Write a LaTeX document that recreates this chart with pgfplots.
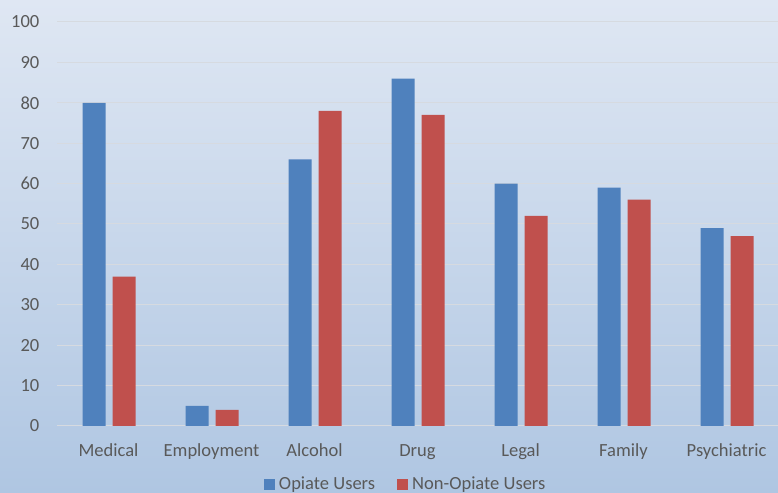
\documentclass[border=0pt]{standalone}
\usepackage{pgfplots}
\pgfplotsset{compat=1.18}
\usepackage{fontspec}
\setmainfont{Carlito}
\definecolor{bgtop}{RGB}{223,231,243}
\definecolor{bgbot}{RGB}{175,198,226}
\definecolor{gridc}{RGB}{214,218,224}
\definecolor{txt}{RGB}{89,89,89}
\definecolor{opblue}{RGB}{79,129,189}
\definecolor{opred}{RGB}{192,80,77}
\begin{document}
\begin{tikzpicture}[x=1bp,y=1bp]
\shade[top color=bgtop, bottom color=bgbot] (0,0) rectangle (778,493);
\begin{axis}[
  at={(57bp,67bp)}, anchor=south west,
  scale only axis, width=721bp, height=404bp,
  xmin=-0.5, xmax=6.5, ymin=0, ymax=100,
  ytick={0,10,...,100},
  xtick={0,...,6},
  xticklabels={Medical,Employment,Alcohol,Drug,Legal,Family,Psychiatric},
  ymajorgrids, grid style={color=gridc, line width=1bp},
  axis line style={draw=none},
  major tick length=0pt, tick style={draw=none},
  /pgf/number format/assume math mode=true,
  ticklabel style={font=\fontsize{18.6}{20}\selectfont, text=txt},
  yticklabel style={anchor=east, inner sep=0pt, xshift=-17.5bp},
  xticklabel style={anchor=base, inner sep=0pt, yshift=-30.5bp},
  ybar, bar width=23bp,
  legend columns=2,
  legend style={at={(0.485,-0.1436)}, anchor=center, draw=none, fill=none,
    font=\fontsize{18.6}{20}\selectfont, text=txt,
    /tikz/every odd column/.append style={column sep=0bp},
    /tikz/every even column/.append style={column sep=18bp},
    nodes={inner xsep=4bp}},
  legend image code/.code={\fill[#1,draw=none] (0bp,-6bp) rectangle (11bp,5bp);},
  clip=false,
]
\addplot[fill=opblue, draw=none, bar shift=-14.5bp] coordinates {(0,80) (1,5) (2,66) (3,86) (4,60) (5,59) (6,49)};
\addplot[fill=opred, draw=none, bar shift=15.5bp] coordinates {(0,37) (1,4) (2,78) (3,77) (4,52) (5,56) (6,47)};
\legend{Opiate Users, Non-Opiate Users}
\end{axis}
\pgfresetboundingbox
\useasboundingbox (0,0) rectangle (778,493);
\end{tikzpicture}
\end{document}
